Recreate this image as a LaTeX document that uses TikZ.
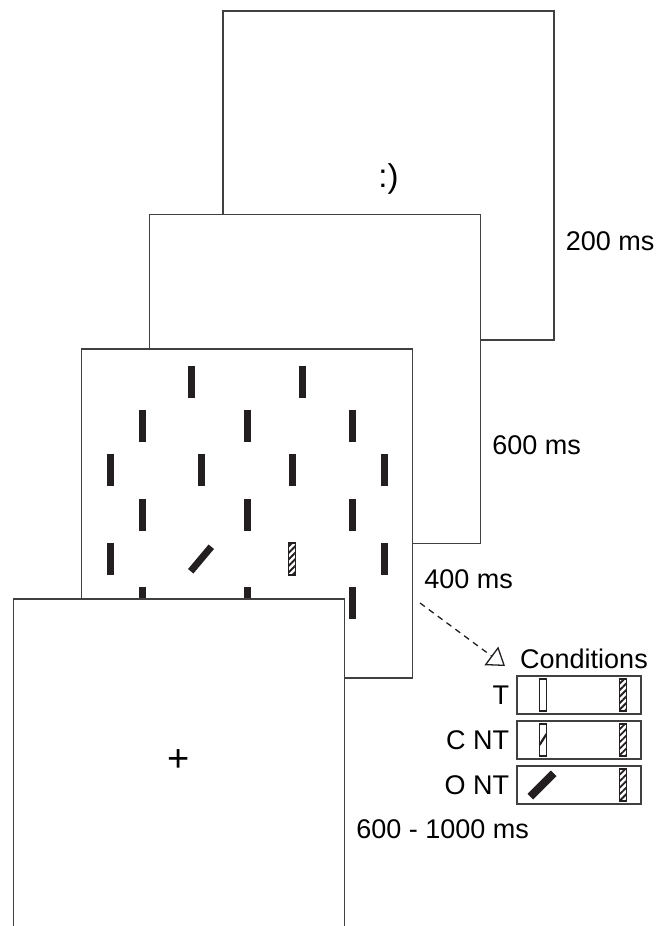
\documentclass[tikz,border=0pt]{standalone}
\usepackage{fontspec}
\setmainfont{Liberation Sans}
\usetikzlibrary{positioning,arrows.meta,patterns.meta}
\definecolor{barblack}{HTML}{231F20}
\definecolor{framegray}{HTML}{404040}

\begin{document}
\begin{tikzpicture}[
  x=1pt, y=1pt,
  font=\fontsize{27}{32}\selectfont,
  frame/.style={rectangle, draw=framegray, line width=1.3pt, fill=white, minimum width=331pt, minimum height=329pt, inner sep=0pt},
  bar/.style={rectangle, fill=barblack, minimum width=7pt, minimum height=32pt, inner sep=0pt},
  obar/.style={rectangle, draw=barblack, line width=1.4pt, fill=white, minimum width=7pt, minimum height=32pt, inner sep=0pt},
  hbar/.style={obar, pattern={Lines[angle=45, distance=4.6pt, line width=1.9pt]}, pattern color=barblack},
  condbox/.style={rectangle, draw=framegray, line width=1.3pt, minimum width=124pt, minimum height=38pt, inner sep=0pt},
  time/.style={anchor=west, inner sep=0pt},
  cond/.style={anchor=east, inner sep=0pt}
]
  \useasboundingbox (0,0) rectangle (662,-926);

  % Frames (back to front)
  \node[frame] (f1) at (388.5,-175.5) {};
  \node (smile) at (388.5,-179) {\fontsize{33}{36}\selectfont :)};
  \node[frame] (f2) at (315,-379) {};
  \node[frame] (f3) at (247,-513.5) {};

  % Search display
  \foreach \y/\xlist in {382/{191,302}, 426/{142,247,352}, 470/{110,201,292,384},
                         515/{142,247,352}, 559/{110,384}, 603/{142,247,352}}
    \foreach \x in \xlist
      \node[bar] (s\x\y) at (\x,-\y) {};
  \node[bar, rotate=-40] (sobl) at (201,-559) {};
  \node[hbar] (scol) at (292,-559) {};

  \node[frame] (f4) at (179,-763.5) {};
  \node (fix) at (179,-761) {\fontsize{38}{40}\selectfont +};

  % Durations
  \node[time] (d1) at ([xshift=11pt, yshift=-231pt]f1.north east) {200 ms};
  \node[time] (d2) at ([xshift=11pt, yshift=-231pt]f2.north east) {600 ms};
  \node[time] (d3) at ([xshift=11pt, yshift=-231pt]f3.north east) {400 ms};
  \node[time] (d4) at ([xshift=11pt, yshift=-231pt]f4.north east) {600 - 1000 ms};

  % Conditions
  \node[anchor=west, inner sep=0pt] (ctitle) at (520,-659) {Conditions};
  \node[condbox] (c1) at (579,-695) {};
  \node[condbox, below=5.7pt of c1] (c2) {};
  \node[condbox, below=5.7pt of c2] (c3) {};

  \node[cond] (l1) at ([xshift=-7pt]c1.west) {T};
  \node[cond] (l2) at ([xshift=-7pt]c2.west) {C NT};
  \node[cond] (l3) at ([xshift=-7pt]c3.west) {O NT};

  \node[obar] (c1l) at ([xshift=-36pt]c1.center) {};
  \node[hbar] (c1r) at ([xshift=44pt]c1.center) {};
  \node[obar, path picture={
      \draw[barblack, line width=2.2pt] ([yshift=-5pt]path picture bounding box.west)
        -- ([yshift=6pt]path picture bounding box.east);}] (c2l) at ([xshift=-36pt]c2.center) {};
  \node[hbar] (c2r) at ([xshift=44pt]c2.center) {};
  \node[bar, rotate=-45, minimum width=8pt, minimum height=33pt] (c3l) at ([xshift=-37pt]c3.center) {};
  \node[hbar] (c3r) at ([xshift=44pt]c3.center) {};

  % Arrow to conditions
  \coordinate (afrom) at (420,-603);
  \coordinate (ato) at (505,-666);
  \draw[barblack, line width=1.3pt, dash pattern=on 6pt off 5pt,
        -{Triangle[open, length=17pt, width=23pt]}] (afrom) -- (ato);
\end{tikzpicture}
\end{document}
